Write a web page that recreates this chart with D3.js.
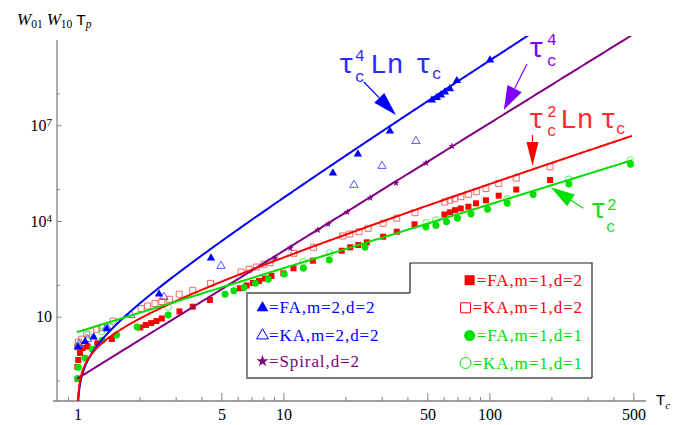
<!DOCTYPE html>
<html><head><meta charset="utf-8">
<script src="https://cdn.jsdelivr.net/npm/d3@7"></script>
<style>body{margin:0;background:#fff}svg{display:block}</style>
</head><body>
<svg id="c" width="690" height="425"></svg>
<script>
// ---------------- data ----------------
const faM2D2Tau = [1.007,1.09,1.20,1.39,2.49,4.45,17.4,23.0,32.9,52.6,55.6,58.2,60.8,64.3,69.5,100.7];
const faM2D2Val = [1.12,1.67,2.31,4.18,51.5,692,3.2e5,1.26e6,6.6e6,6.2e7,7.4e7,8.9e7,1.1e8,1.4e8,2.5e8,1.1e9];
const kaM2D2Tau = [1.02,1.12,1.39,1.82,2.63,4.98,22.0,30.1,44.0];
const kaM2D2Val = [1.39,2.0,4.75,11.3,41.5,388,1.35e5,5.3e5,3.2e6];
const spiralTau = [9.1,10.8,14.7,16.5,20.4,26.4,35.2,49.3,65.9];
const spiralVal = [692,1426,5220,8050,1.9e4,5.3e4,1.55e5,6.6e5,2.2e6];
const faM1D2Tau = [1.003,1.0,1.01,1.03,1.06,1.12,1.25,1.47,2.02,2.15,2.28,2.42,2.57,3.13,3.63,4.40,6.15,6.63,7.11,7.61,8.14,8.75,10.0,11.2,13.9,19.2,21.1,23.1,25.4,30.5,35.5,43.3,60.5,64.4,68.1,72.6,79.1,86.1,96.3,111,135,197];
const faM1D2Val = [0.111,0.265,0.44,0.73,1.04,1.16,1.47,2.0,4.6,5.5,6.3,7.3,8.8,14.6,20.6,33.4,77.6,95,114,131,157,189,229,329,569,1170,1500,1770,2150,3220,4620,7890,1.6e4,1.87e4,2.18e4,2.47e4,2.8e4,3.59e4,4.46e4,6.2e4,9.7e4,1.93e5];
const kaM1D2Tau = [1.003,1.012,1.049,1.11,1.24,1.31,1.49,2.04,2.19,2.38,2.57,2.80,3.12,3.63,4.43,6.23,6.81,7.39,8.05,8.61,11.25,14.0,19.4,21.0,23.3,25.8,30.5,35.5,43.5,60.8,64.3,68.0,72.7,79.0,86.4,96.2,111,135,197];
const kaM1D2Val = [1.15,1.61,1.96,2.87,4.03,4.65,7.3,18.1,21.6,25.9,29.9,35.1,50.7,67.3,111,252,306,361,442,493,970,1500,3390,3910,4620,5900,8470,1.22e4,1.82e4,3.94e4,4.46e4,5.0e4,5.78e4,6.87e4,8.28e4,1.04e5,1.5e5,2.23e5,5.0e5];
const faM1D1Tau = [1.003,1.01,1.09,1.18,1.32,1.55,1.95,2.76,5.21,5.75,6.45,7.32,8.45,10.1,12.5,16.7,24.9,49.2,55.0,61.9,70.0,81.4,98.0,122,163,243,484];
const faM1D1Val = [0.116,0.26,0.50,0.95,1.82,2.67,4.75,11.3,50.7,65.3,82.3,111,150,218,329,599,1500,6490,7230,9510,1.22e4,1.66e4,2.33e4,3.59e4,6.78e4,1.45e5,6.04e5];
const kaM1D1Tau = [1.018,1.13,1.31,1.44,2.76,12.5,16.8,49.2,54.9,122,243,483];
const kaM1D1Val = [1.30,2.67,3.44,4.75,19.7,530,993,8850,1.07e4,5.0e4,2.04e5,8.2e5];

// fitted curves  c * tau^p * (ln tau)^l
const fitCoef = [2.3, 0.115, 3.1, 3.3];
const fitPow  = [4, 4, 2, 2];
const fitLn   = [1, 0, 1, 0];
const fitTauMax = 492;

const xTicksMajor = [1,5,10,50,100,500];
const xTicksMinor = [0.9,2,3,4,6,7,8,9,20,30,40,60,70,80,90,200,300,400];
const yTicksMajor = [1e1,1e4,1e7];
const yTicksMinor = [1e-1,1e2,1e5,1e8];

const legendLeft  = ["=FA,m=2,d=2","=KA,m=2,d=2","=Spiral,d=2"];
const legendRight = ["=FA,m=1,d=2","=KA,m=1,d=2","=FA,m=1,d=1","=KA,m=1,d=1"];

// ---------------- drawing ----------------
const BLUE="#0000ff", LBLUE="#5a5aff", PURPLE="#800080", RED="#ff0000", LRED="#f06a6a",
      GREEN="#00e000", LGREEN="#66ee66", VIOLET="#8000ff", AX="#808080";
const svg=d3.select("#c");
const x=d3.scaleLog().domain([1,100]).range([77.4,489.4]);
const y=d3.scaleLog().domain([10,1e4]).range([316.7,221]);
const L=57, R=646, T=36, B=401;

svg.append("defs").append("clipPath").attr("id","clip")
  .append("rect").attr("x",L).attr("y",T).attr("width",R-L).attr("height",B-T);

// axes
function styleAxis(g){ g.attr("font-family",null).attr("font-size",null); g.select(".domain").remove();
  g.selectAll("line").attr("stroke",AX).attr("stroke-width",1); }
const gx=svg.append("g").attr("transform",`translate(0,${B})`)
  .call(d3.axisBottom(x).tickValues(xTicksMajor).tickSize(-8).tickPadding(8).tickFormat(d3.format("d")));
styleAxis(gx);
gx.selectAll("text").attr("font-family","Liberation Serif").attr("font-size",16).attr("fill","#000");
const gx2=svg.append("g").attr("transform",`translate(0,${B})`)
  .call(d3.axisBottom(x).tickValues(xTicksMinor).tickSize(-4).tickFormat(""));
styleAxis(gx2);
const gy=svg.append("g").attr("transform",`translate(${L},0)`)
  .call(d3.axisLeft(y).tickValues(yTicksMajor).tickSize(-4.5).tickPadding(5).tickFormat(""));
styleAxis(gy);
gy.selectAll("text").attr("font-family","Liberation Serif").attr("font-size",16).attr("fill","#000")
  .each(function(d){ const e=Math.round(Math.log10(d)); const t=d3.select(this); t.text("10");
    if(e!==1) t.append("tspan").attr("dy","-0.45em").attr("font-size",11).text(e); });
const gy2=svg.append("g").attr("transform",`translate(${L},0)`)
  .call(d3.axisLeft(y).tickValues(yTicksMinor).tickSize(-2.8).tickFormat(""));
styleAxis(gy2);
svg.append("line").attr("x1",53).attr("x2",R).attr("y1",B).attr("y2",B).attr("stroke",AX).attr("stroke-width",1.3);
svg.append("line").attr("x1",L).attr("x2",L).attr("y1",40).attr("y2",B).attr("stroke",AX).attr("stroke-width",1.3);

// axis labels
const yl=svg.append("text").attr("x",17).attr("y",25).attr("font-family","Liberation Serif").attr("font-size",17);
yl.append("tspan").attr("font-style","italic").text("W");
yl.append("tspan").attr("font-size",11.5).attr("dy",3).text("01");
yl.append("tspan").attr("dy",-3).attr("dx",4).attr("font-style","italic").text("W");
yl.append("tspan").attr("font-size",11.5).attr("dy",3).text("10");
yl.append("tspan").attr("dy",-3).attr("dx",4).attr("font-family","Liberation Sans").attr("font-size",15.5).text("T");
yl.append("tspan").attr("font-size",11.5).attr("dy",3).attr("font-style","italic").text("p");
const xl=svg.append("text").attr("x",656).attr("y",405).attr("font-family","Liberation Sans").attr("font-size",15);
xl.append("tspan").text("T");
xl.append("tspan").attr("font-family","Liberation Serif").attr("font-style","italic").attr("font-size",11).attr("dy",4).text("c");

// markers
const plot=svg.append("g").attr("clip-path","url(#clip)");
function pts(taus,vals){ return taus.map((t,i)=>[t,vals[i]]); }
function drawSym(data,type,size,fill,stroke,sw){
  plot.append("g").selectAll("path").data(data).join("path")
    .attr("transform",d=>`translate(${x(d[0])},${y(d[1])})`)
    .attr("d",d3.symbol().type(type).size(size)())
    .attr("fill",fill).attr("stroke",stroke).attr("stroke-width",sw||1);
}
drawSym(pts(kaM1D2Tau,kaM1D2Val),d3.symbolSquare,36,"none",LRED,1);
drawSym(pts(kaM1D1Tau,kaM1D1Val),d3.symbolCircle,34,"none",LGREEN,1);
drawSym(pts(faM1D2Tau,faM1D2Val),d3.symbolSquare,36,RED,"none");
drawSym(pts(faM1D1Tau,faM1D1Val),d3.symbolCircle,38,GREEN,"none");
drawSym(pts(kaM2D2Tau,kaM2D2Val),d3.symbolTriangle,30,"none",LBLUE,1);
drawSym(pts(faM2D2Tau,faM2D2Val),d3.symbolTriangle,30,BLUE,"none");
drawSym(pts(spiralTau,spiralVal),d3.symbolStar,16,PURPLE,"none");

// fitted curves
const sampleTau=[];
for(let s=-5;s<=Math.log10(fitTauMax-1);s+=0.01) sampleTau.push(1+Math.pow(10,s));
sampleTau.push(fitTauMax);
const curveColors=[BLUE,PURPLE,RED,GREEN];
fitCoef.forEach((c,k)=>{
  const f=t=>c*Math.pow(t,fitPow[k])*(fitLn[k]?Math.log(t):1);
  const line=d3.line().x(t=>x(t)).y(t=>Math.min(y(f(t)),B+50));
  plot.append("path").attr("d",line(sampleTau)).attr("fill","none")
    .attr("stroke",curveColors[k]).attr("stroke-width",2);
});

// annotations (one text element per label, parts as tspans)
const ann=svg.append("g");
function label(t0,v0,parts,color){
  const X=x(t0),Y=y(v0);
  const t=ann.append("text").attr("font-family","Liberation Mono").attr("fill",color);
  parts.forEach(p=>t.append("tspan").attr("x",X+p[1]).attr("y",Y+p[2]).attr("font-size",p[3]).text(p[0]));
}
function arrow(t1,v1,t2,v2,color,len,hw){
  const x1=x(t1),y1=y(v1),x2=x(t2),y2=y(v2),a=Math.atan2(y2-y1,x2-x1);
  const bx=x2-len*Math.cos(a), by=y2-len*Math.sin(a), px=-Math.sin(a)*hw, py=Math.cos(a)*hw;
  ann.append("line").attr("x1",x1).attr("y1",y1).attr("x2",bx).attr("y2",by).attr("stroke",color).attr("stroke-width",1.2);
  ann.append("path").attr("d",`M${x2},${y2}L${bx+px},${by+py}L${bx-px},${by-py}Z`).attr("fill",color);
}
label(18.4,4.4e8,[["τ",0,0,28],["4",17,-12,16],["c",17,9,16],["Ln",32,0,28],["τ",77,0,28],["c",94,6,16]],"#2a2aff");
arrow(24.6,2.27e8,35.2,2.1e7,BLUE,24,7);
label(153.9,1.38e9,[["τ",0,0,28],["4",19,-12,16],["c",19,9,16]],VIOLET);
arrow(152.2,8.4e8,117.5,3.02e7,VIOLET,24,8);
label(153.9,8.2e6,[["τ",0,0,28],["2",19,-11,16],["c",19,8,16],["Ln",32,0,28],["τ",72,0,28],["c",88,6,16]],"#ff2a2a");
arrow(161.9,4.97e6,161.9,5.3e5,RED,24,6);
label(307.6,1.24e4,[["τ",0,0,28],["2",17,-8,16],["c",16,14,16]],"#22dd22");
arrow(285.6,2.5e4,198.5,1.14e5,GREEN,24,7);

// legends
const lg=svg.append("g");
lg.append("rect").attr("x",247).attr("y",293).attr("width",163).attr("height",85).attr("fill","#fff");
lg.append("rect").attr("x",410).attr("y",263).attr("width",182).attr("height",115).attr("fill","#fff");
lg.append("path").attr("d","M410,293H247V378H592").attr("fill","none").attr("stroke","#777").attr("stroke-width",1.8);
lg.append("path").attr("d","M410,293V263H592V378").attr("fill","none").attr("stroke","#222").attr("stroke-width",1.2);
const lfont={family:"Liberation Serif",size:17};
const leftRows=[[legendLeft[0],313.3,BLUE,d3.symbolTriangle,BLUE,"none"],
                [legendLeft[1],341,BLUE,d3.symbolTriangle,"none",BLUE],
                [legendLeft[2],366.7,PURPLE,d3.symbolStar,PURPLE,"none"]];
leftRows.forEach(r=>{
  lg.append("text").attr("x",269).attr("y",r[1]).attr("font-family",lfont.family).attr("font-size",lfont.size)
    .attr("letter-spacing",0.9).attr("fill",r[2]).text(r[0]);
  lg.append("path").attr("transform",`translate(262.5,${r[1]-5.5})`)
    .attr("d",d3.symbol().type(r[3]).size(r[3]===d3.symbolStar?45:60)()).attr("fill",r[4]).attr("stroke",r[5]).attr("stroke-width",1);
});
const rightRows=[[legendRight[0],285.7,RED,d3.symbolSquare,RED,"none"],
                 [legendRight[1],313.3,RED,d3.symbolSquare,"none",RED],
                 [legendRight[2],341,GREEN,d3.symbolCircle,GREEN,"none"],
                 [legendRight[3],368.5,GREEN,d3.symbolCircle,"none",GREEN]];
rightRows.forEach(r=>{
  const t=lg.append("text").attr("x",583).attr("y",r[1]).attr("text-anchor","end").attr("font-family",lfont.family)
    .attr("font-size",lfont.size).attr("letter-spacing",0.9).attr("fill",r[2]).text(r[0]);
  const w=t.node().getComputedTextLength();
  lg.append("path").attr("transform",`translate(${583-w-7},${r[1]-5.5})`)
    .attr("d",d3.symbol().type(r[3]).size(r[3]===d3.symbolSquare?100:95)()).attr("fill",r[4]).attr("stroke",r[5]).attr("stroke-width",1);
});
</script>
</body></html>
